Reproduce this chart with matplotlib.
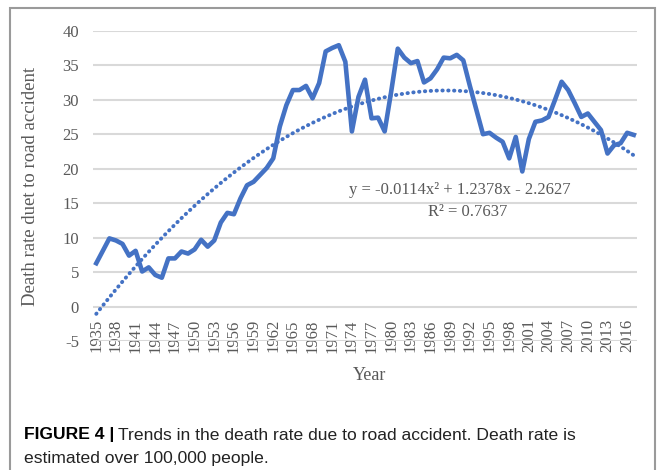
import numpy as np
import matplotlib.pyplot as plt
from matplotlib.patches import Rectangle

# Death rate per 100,000 people, 1935-2017
years = list(range(1935, 2018))
death_rate = [
    6.3, 8.1, 9.9, 9.6, 9.1, 7.4, 8.1, 5.1, 5.7, 4.6,   # 1935-1944
    4.2, 7.0, 7.0, 8.0, 7.7, 8.3, 9.7, 8.7, 9.6, 12.2,  # 1945-1954
    13.6, 13.4, 15.7, 17.6, 18.1, 19.1, 20.1, 21.5, 26.1, 29.2,  # 1955-1964
    31.4, 31.4, 32.0, 30.2, 32.4, 37.0, 37.5, 37.9, 35.5, 25.4,  # 1965-1974
    30.4, 32.9, 27.3, 27.4, 25.4, 31.2, 37.4, 36.1, 35.3, 35.6,  # 1975-1984
    32.5, 33.1, 34.4, 36.1, 36.0, 36.5, 35.7, 32.0, 28.5, 25.0,  # 1985-1994
    25.2, 24.5, 23.9, 21.5, 24.6, 19.6, 24.3, 26.8, 27.0, 27.5,  # 1995-2004
    30.0, 32.6, 31.4, 29.5, 27.5, 28.0, 26.8, 25.6, 22.2, 23.4,  # 2005-2014
    23.7, 25.2, 24.9,                                    # 2015-2017
]

# polynomial trendline as printed on the chart (x = 1, 2, ...)
trend_a, trend_b, trend_c = -0.0114, 1.2378, -2.2627
equation_label = "y = -0.0114x² + 1.2378x - 2.2627"
r2_label = "R² = 0.7637"

tick_years = years[::3]
y_ticks = list(range(-5, 45, 5))

blue = '#4472C4'
gray_text = '#595959'
serif = ['Liberation Serif', 'DejaVu Serif']

fig = plt.figure(figsize=(6.63, 4.70), dpi=100)
ax = fig.add_axes([93 / 663, 1 - 341.2 / 470, 544 / 663, 310.5 / 470])

idx = np.arange(len(years))
ax.plot(idx, death_rate, color=blue, linewidth=3.3, solid_joinstyle='round', zorder=3)

x_fit = idx + 1
trend = trend_a * x_fit ** 2 + trend_b * x_fit + trend_c
ax.plot(idx, trend, color=blue, linewidth=2.8, linestyle=(0, (0.1, 1.4)),
        dash_capstyle='round', zorder=2)

ax.set_xlim(-0.5, len(years) - 0.5)
ax.set_ylim(-5, 40)
ax.set_yticks(y_ticks)
ax.set_yticklabels([str(v) for v in y_ticks], fontfamily=serif, fontsize=12, color=gray_text)
ax.yaxis.grid(True, color='#D9D9D9', linewidth=1.5)
ax.set_axisbelow(True)

# category axis crosses at 0
ax.spines['bottom'].set_position(('data', 0))
for s in ax.spines.values():
    s.set_visible(False)
ax.set_xticks([years.index(y) for y in tick_years])
ax.set_xticklabels([str(y) for y in tick_years], rotation=90, fontfamily=serif,
                   fontsize=12, color=gray_text)
ax.tick_params(axis='both', length=0)
ax.tick_params(axis='x', pad=9)
ax.tick_params(axis='y', pad=10)

ax.set_ylabel('Death rate duet to road accident', fontfamily=serif, fontsize=13.5,
              color=gray_text, labelpad=17)
fig.text(370 / 663, 1 - 376 / 470, 'Year', fontfamily=serif, fontsize=13,
         color=gray_text, ha='center', va='center')

ax.text(0.675, 0.487, equation_label, transform=ax.transAxes, fontfamily=serif,
        fontsize=12, color=gray_text, ha='center', va='center')
ax.text(0.689, 0.416, r2_label, transform=ax.transAxes, fontfamily=serif,
        fontsize=12, color=gray_text, ha='center', va='center')

# outer frame of the figure panel
fig.patches.append(Rectangle((10 / 663, -0.05), 645 / 663, 1.05 - 8 / 470,
                             transform=fig.transFigure, fill=False,
                             edgecolor='#9A9A9A', linewidth=1.5))

# caption
cap_font = ['Liberation Sans', 'DejaVu Sans']
bold = fig.text(24 / 663, 1 - 435 / 470, 'FIGURE 4 |', fontfamily=cap_font,
                fontsize=12.6, fontweight='bold', color='black', va='center')
fig.canvas.draw()
bb = bold.get_window_extent()
fig.text(bb.x1 / fig.bbox.width + 4 / 663, 1 - 435 / 470,
         'Trends in the death rate due to road accident. Death rate is',
         fontfamily=cap_font, fontsize=12.6, color='#222222', va='center')
fig.text(24 / 663, 1 - 458 / 470, 'estimated over 100,000 people.',
         fontfamily=cap_font, fontsize=12.6, color='#222222', va='center')

fig.savefig('out.png', dpi=100)
